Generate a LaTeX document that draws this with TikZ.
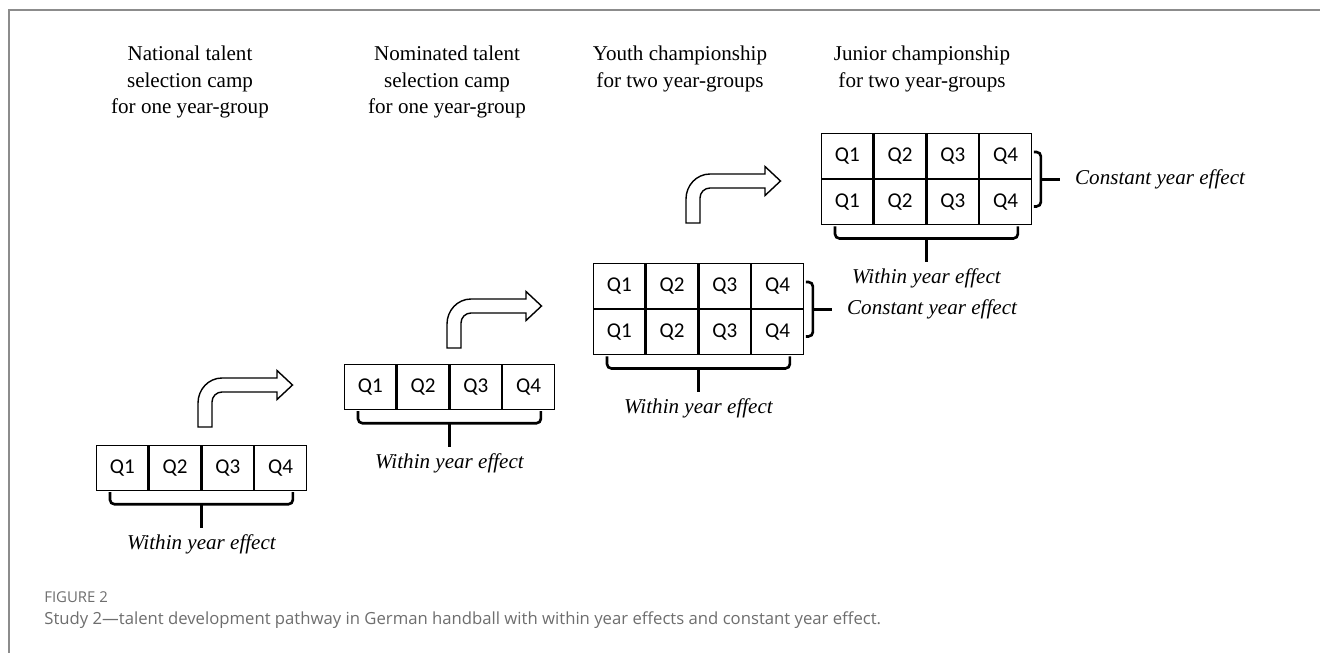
\documentclass[tikz,border=0pt]{standalone}
\usepackage{fontspec}
\setmainfont{Liberation Serif}
\newfontfamily\cellfont{Carlito}
\newfontfamily\capfont{Open Sans}
\usepackage{tikz}
\usetikzlibrary{calc,positioning}
\definecolor{FrameGray}{HTML}{8C8C8C}
\definecolor{CaptionGray}{HTML}{6E6E6E}

\tikzset{
    qcell/.style={draw, line width=0.7pt, minimum width=1.03cm, minimum height=0.9cm, inner sep=0pt,
        font=\cellfont\fontsize{12}{14}\selectfont},
    stage/.style={align=center, anchor=north, inner sep=0pt, font=\fontsize{12}{15}\selectfont},
    effect/.style={inner sep=0pt, font=\itshape\fontsize{12}{14}\selectfont},
    brace/.style={line width=1.5pt, rounded corners=2.5pt},
    bendarrow/.style={draw, line width=0.8pt, fill=white, line join=miter}
}

\newcommand{\turnarrow}[1]{%
    \draw[bendarrow, shift={#1}] (0,0) -- (0,-24) to[out=90,in=180] (24,-49) -- (79,-49) -- (79,-56.5)
        -- (94.5,-42) -- (79,-27.5) -- (79,-35) -- (24,-35) to[out=180,in=90] (14,-25) -- (14,0) -- cycle;}

\begin{document}
\begin{tikzpicture}[x=0.02cm, y=-0.02cm]
        \useasboundingbox (0,0) rectangle (1320,653);
        \fill[white] (0,0) rectangle (1320,653);
        \draw[FrameGray, line width=0.6pt] (9,653) -- (9,10) -- (1320,10);

        % stage titles
        \node[stage] (t1) at (190,46) {National talent\\selection camp\\for one year-group};
        \node[stage] (t2) at (447,46) {Nominated talent\\selection camp\\for one year-group};
        \node[stage] (t3) at (680,46) {Youth championship\\for two year-groups};
        \node[stage] (t4) at (922,46) {Junior championship\\for two year-groups};

        % quarter boxes
        \node[qcell, anchor=north west] (a1) at (96,445) {Q1};
        \foreach \i [count=\j from 2] in {1,2,3} \node[qcell, right=0pt of a\i] (a\j) {Q\j};
        \node[qcell, anchor=north west] (b1) at (344,364) {Q1};
        \foreach \i [count=\j from 2] in {1,2,3} \node[qcell, right=0pt of b\i] (b\j) {Q\j};
        \node[qcell, anchor=north west] (c1) at (593,263) {Q1};
        \foreach \i [count=\j from 2] in {1,2,3} \node[qcell, right=0pt of c\i] (c\j) {Q\j};
        \node[qcell, below=0pt of c1] (d1) {Q1};
        \foreach \i [count=\j from 2] in {1,2,3} \node[qcell, right=0pt of d\i] (d\j) {Q\j};
        \node[qcell, anchor=north west] (e1) at (821,133) {Q1};
        \foreach \i [count=\j from 2] in {1,2,3} \node[qcell, right=0pt of e\i] (e\j) {Q\j};
        \node[qcell, below=0pt of e1] (f1) {Q1};
        \foreach \i [count=\j from 2] in {1,2,3} \node[qcell, right=0pt of f\i] (f\j) {Q\j};

        % within year braces
        \foreach \lo/\hi/\mid/\nm in {a1/a4/a2/wa, b1/b4/b2/wb, d1/d4/d2/wd, f1/f4/f2/wf} {
            \draw[brace] ($(\lo.south west)+(14,1)$) |- ($(\hi.south east)+(-14,13)$) -- ($(\hi.south east)+(-14,1)$);
            \draw[brace] ($(\mid.south east)+(0,13)$) -- ++(0,24) coordinate (\nm);
            \node[effect, below=3.5pt of \nm] (l\nm) {Within year effect};
        }

        % constant year braces
        \foreach \up/\lw/\nm in {c4/d4/kc, e4/f4/ke} {
            \draw[brace] ($(\up.north east)+(2,19)$) -| ($(\lw.south east)+(9,-19)$) -- ($(\lw.south east)+(2,-19)$);
            \draw[brace] ($(\up.south east)+(9,0)$) -- ++(19,0) coordinate (\nm);
            \node[effect, right=8.5pt of \nm] (l\nm) {Constant year effect};
        }

        % turn arrows
        \turnarrow{(198,427)}
        \turnarrow{(447,348)}
        \turnarrow{(686,223)}

        % caption
        \node[anchor=west, inner sep=0pt, text=CaptionGray, font=\capfont\fontsize{8.5}{10}\selectfont] (figno) at (44,597) {FIGURE 2};
        \node[anchor=west, inner sep=0pt, text=CaptionGray, font=\capfont\fontsize{9.5}{12}\selectfont] (figcap) at (44,620)
            {Study 2—talent development pathway in German handball with within year effects and constant year effect.};
    \end{tikzpicture}
\end{document}
